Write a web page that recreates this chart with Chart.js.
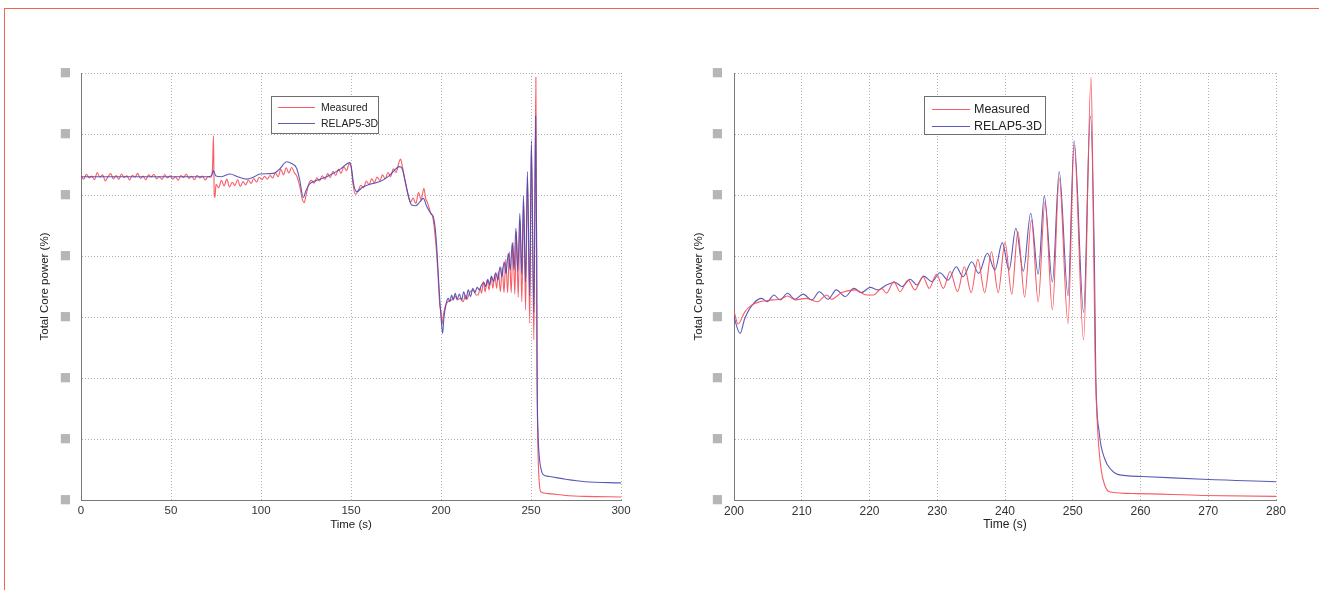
<!DOCTYPE html>
<html>
<head>
<meta charset="utf-8">
<script src="https://cdn.jsdelivr.net/npm/chart.js@4/dist/chart.umd.min.js"></script>
<style>
  body { margin: 0; background: #fff; }
  #page { position: relative; width: 1319px; height: 590px; overflow: hidden; }
  #frame { position: absolute; left: 4px; top: 8px; width: 1400px; height: 700px;
           border-top: 1px solid #f0654f; border-left: 1px solid #f0654f; }
  #left { position: absolute; left: 0; top: 0; }
  #right { position: absolute; left: 660px; top: 0; }
</style>
</head>
<body>
<div id="page">
  <div id="frame"></div>
  <canvas id="left" width="660" height="590"></canvas>
  <canvas id="right" width="659" height="590"></canvas>
</div>
<script>
// Total core power, measured vs RELAP5-3D

const measuredTime = [
  0, 1.5, 3, 4.5, 6, 7.5, 9, 10.5, 12, 13.5, 15, 16.5, 18, 19.5, 21, 22.5, 24, 25.5, 27, 28.5,
  30, 31.5, 33, 34.5, 36, 37.5, 39, 40.5, 42, 43.5, 45, 46.5, 48, 49.5, 51, 52.5, 54, 55.5, 57, 58.5,
  60, 61.5, 63, 64.5, 66, 67.5, 69, 70.5, 72, 73, 73.6, 74.0, 74.4, 75, 76.5, 78, 79.5, 81, 82.5, 84,
  85.5, 87, 88.5, 90, 91.5, 93, 94.5, 96, 97.5, 99, 100.5, 102, 103.5, 105, 106.5, 108, 109.5, 111, 112.5, 114,
  115.5, 117, 118.5, 120, 121.5, 123, 124, 125, 126.5, 128, 129.5, 131, 132.5, 134, 135.5, 137, 138.5, 140, 141.5, 143,
  144.5, 146, 147.5, 149, 150, 151, 152.5, 154, 155.5, 157, 158.5, 160, 161.5, 163, 164.5, 166, 167.5, 169, 170.5, 172,
  173.5, 175, 176.5, 177.5, 178.5, 180, 181.5, 183, 184.5, 186, 187.5, 189, 190.5, 191.5, 192.5, 194, 195.5, 196.5, 197.5, 198.5,
  199.3, 200.0, 200.6, 201.6, 202.6, 203.8, 205.0, 205.8, 206.8, 207.9, 209.0, 210.7, 212.3, 213.7, 214.4, 215.9, 217.9, 219.6, 220.6, 221.8,
  222.5, 223.6, 224.5, 225.7, 226.7, 227.9, 228.8, 229.9, 230.9, 231.9, 233.0, 234.0, 235.0, 236.0, 237.0, 238.0, 239.0, 240.0, 241.0, 241.9,
  242.9, 243.9, 244.9, 245.9, 247.0, 248.0, 249.3, 250.2, 251.6, 252.7, 253.05, 253.3, 253.7, 254.2, 254.7, 255.4, 259.3, 269.2, 280, 300
];
const measuredPower = [
  106.3, 105.2, 106.8, 105.6, 106.2, 105.0, 107.4, 105.8, 106.6, 104.6, 106.0, 107.0, 105.3, 106.4, 105.1, 106.9, 105.7, 106.3, 104.9, 106.5,
  105.8, 107.1, 105.4, 106.2, 105.0, 106.6, 105.9, 106.8, 105.3, 106.0, 105.1, 106.7, 105.6, 106.3, 105.2, 106.0, 104.8, 106.4, 105.7, 106.9,
  105.4, 106.1, 105.0, 106.5, 105.6, 106.2, 104.9, 106.0, 105.8, 108.0, 119.5, 100.0, 99.2, 103.5, 102.4, 104.8, 103.0, 105.2, 102.6, 104.2,
  103.1, 105.0, 102.8, 104.4, 103.3, 104.9, 103.8, 105.4, 104.2, 105.8, 105.0, 106.1, 105.2, 106.4, 105.6, 107.3, 106.0, 108.4, 106.6, 108.9,
  107.2, 109.0, 107.4, 106.0, 103.0, 98.5, 97.5, 99.8, 103.6, 104.8, 103.9, 105.6, 104.6, 106.3, 105.1, 107.0, 105.7, 107.8, 106.4, 108.5,
  107.1, 109.2, 108.0, 110.2, 109.5, 104.0, 100.2, 101.4, 103.2, 102.4, 104.6, 103.4, 105.3, 104.1, 105.9, 104.7, 106.6, 105.3, 107.4, 106.0,
  108.6, 107.4, 110.4, 111.8, 109.5, 104.6, 100.5, 97.6, 99.0, 97.2, 100.8, 98.5, 102.2, 98.8, 97.5, 94.5, 92.5, 88.0, 81.5, 72.0,
  64.0, 61.7, 57.7, 61.7, 63.9, 65.0, 65.4, 65.6, 65.8, 66.9, 65.6, 66.1, 65.0, 67.2, 65.8, 68.0, 68.9, 67.2, 67.2, 69.4,
  67.8, 71.6, 68.3, 72.1, 68.9, 73.2, 69.4, 74.0, 69.4, 74.9, 68.3, 76.5, 68.0, 78.9, 68.0, 81.4, 68.0, 84.5, 67.5, 88.0,
  66.5, 91.8, 65.0, 97.8, 62.3, 105.5, 57.9, 116.4, 52.5, 138.6, 90.3, 47.0, 22.3, 9.9, 5.0, 2.7, 2.1, 1.5, 1.2, 1.0
];

const relapTime = [
  0, 70, 72.5, 73.5, 75, 78, 82.8, 87, 92, 96, 99.4, 106.9, 110, 114.3, 117, 119.8, 121.5, 123.5, 125, 127,
  129.1, 136.5, 143.9, 149.4, 150.2, 151.5, 153.1, 156.8, 161, 166.1, 171, 177.2, 178.5, 180, 182, 183.7, 186, 188.3, 190.2, 192.1,
  194.5, 195.7, 196.7, 197.6, 199.1, 200.0, 200.9, 201.6, 202.9, 204.1, 204.9, 205.9, 206.8, 207.9, 209.0, 210.2, 211.5, 212.6, 213.9, 215.1,
  216.4, 217.7, 218.8, 220.1, 221.3, 222.5, 223.8, 224.8, 226.0, 227.0, 228.0, 229.2, 230.4, 231.6, 232.8, 233.8, 235.1, 236.1, 237.4, 238.5,
  239.6, 240.6, 241.6, 242.7, 243.8, 244.9, 245.8, 247.0, 248.0, 249.3, 250.2, 251.6, 252.6, 253.2, 253.4, 253.9, 254.7, 255.7, 256.6, 260.3,
  269.2, 280, 300
];
const relapPower = [
  106.0, 106.0, 106.3, 108.0, 106.2, 106.0, 106.9, 106.0, 105.2, 105.9, 106.9, 107.1, 108.3, 110.9, 110.3, 108.8, 105.0, 99.2, 101.5, 103.6,
  104.4, 106.0, 108.4, 110.6, 109.0, 103.5, 101.1, 102.7, 103.6, 104.4, 106.2, 109.3, 108.5, 104.9, 99.5, 96.7, 96.5, 97.8, 98.9, 96.2,
  93.8, 92.9, 89.5, 83.1, 67.8, 60.1, 54.6, 59.6, 64.5, 66.1, 65.0, 67.2, 65.6, 67.8, 65.8, 67.5, 65.6, 68.3, 65.8, 68.9,
  66.7, 69.4, 68.0, 69.7, 68.9, 70.5, 71.3, 70.0, 72.4, 70.5, 73.4, 71.6, 74.5, 72.1, 76.5, 73.2, 78.1, 74.3, 80.9, 75.4,
  84.4, 75.4, 89.1, 75.0, 94.0, 74.0, 99.7, 71.5, 107.7, 67.0, 117.8, 61.5, 125.9, 77.9, 40.8, 22.3, 13.6, 9.9, 8.4, 7.7,
  6.8, 6.0, 5.6
];

const leftTimeTicks = [0, 50, 100, 150, 200, 250, 300];
const rightTimeTicks = [200, 210, 220, 230, 240, 250, 260, 270, 280];
const powerTicks = [0, 20, 40, 60, 80, 100, 120, 140];
const seriesNames = ['Measured', 'RELAP5-3D'];

const RED = 'rgba(245, 75, 85, 0.9)';
const BLUE = 'rgba(72, 72, 180, 0.9)';

// legend drawn inside the plot area, like the matlab figure
const legendBox = {
  id: 'legendBox',
  afterDraw(chart, args, o) {
    const { ctx, chartArea } = chart;
    const x = chartArea.left + o.dx;
    const y = chartArea.top + o.dy;
    ctx.save();
    ctx.fillStyle = '#fff';
    ctx.fillRect(x, y, o.w, o.h);
    ctx.strokeStyle = '#6e6e6e';
    ctx.lineWidth = 1;
    ctx.strokeRect(x + 0.5, y + 0.5, o.w, o.h);
    ctx.font = o.size + 'px "Liberation Sans", Arial, sans-serif';
    ctx.textBaseline = 'middle';
    chart.data.datasets.forEach((ds, i) => {
      const ry = y + o.row0 + i * o.rowH;
      ctx.strokeStyle = ds.borderColor;
      ctx.beginPath();
      ctx.moveTo(x + o.l0, ry + 0.5);
      ctx.lineTo(x + o.l1, ry + 0.5);
      ctx.stroke();
      ctx.fillStyle = '#222';
      ctx.fillText(ds.label, x + o.tx, ry + 1);
    });
    ctx.restore();
  }
};

function makeChart(id, cfg) {
  const ctx = document.getElementById(id).getContext('2d');
  const font = { family: '"Liberation Sans", Arial, sans-serif', size: cfg.fontSize };
  return new Chart(ctx, {
    type: 'line',
    data: {
      datasets: [
        {
          label: seriesNames[0],
          data: measuredTime.map((t, i) => ({ x: t, y: measuredPower[i] })),
          borderColor: RED,
          borderWidth: 1.1,
          order: cfg.redOrder
        },
        {
          label: seriesNames[1],
          data: relapTime.map((t, i) => ({ x: t, y: relapPower[i] })),
          borderColor: BLUE,
          borderWidth: 1.1,
          order: cfg.blueOrder
        }
      ]
    },
    options: {
      responsive: false,
      animation: false,
      events: [],
      layout: { padding: cfg.padding },
      elements: {
        point: { radius: 0 },
        line: { cubicInterpolationMode: 'monotone', fill: false }
      },
      plugins: {
        legend: { display: false },
        tooltip: { enabled: false },
        legendBox: cfg.legend
      },
      scales: {
        x: {
          type: 'linear',
          min: cfg.xTicks[0],
          max: cfg.xTicks[cfg.xTicks.length - 1],
          afterBuildTicks: s => { s.ticks = cfg.xTicks.map(v => ({ value: v })); },
          afterFit: s => { s.height = cfg.xHeight; },
          grid: { color: '#b4b4b4', drawTicks: false },
          border: { display: true, color: '#7a7a7a', width: 1, dash: [1, 2] },
          ticks: { color: '#333', font: font, padding: 4, maxRotation: 0 },
          title: { display: true, text: 'Time (s)', color: '#222', font: font, padding: 0 }
        },
        y: {
          min: powerTicks[0],
          max: powerTicks[powerTicks.length - 1],
          afterBuildTicks: s => { s.ticks = powerTicks.map(v => ({ value: v })); },
          afterFit: s => { s.width = cfg.yWidth; },
          grid: { color: '#b4b4b4', drawTicks: false },
          border: { display: true, color: '#7a7a7a', width: 1, dash: [1, 2] },
          // tick values are blurred out in the source figure
          ticks: {
            color: 'rgba(110, 110, 110, 0.5)',
            font: { family: '"DejaVu Sans"', size: 12 },
            padding: cfg.yPad,
            callback: () => '\u25A0'
          },
          title: { display: true, text: 'Total Core power (%)', color: '#222', font: { family: font.family, size: 11.5 }, padding: 0 }
        }
      }
    },
    plugins: [legendBox]
  });
}

makeChart('left', {
  xTicks: leftTimeTicks,
  fontSize: 11.5,
  padding: { left: 38, right: 39, top: 73, bottom: 58 },
  yWidth: 43,
  xHeight: 32,
  yPad: 10,
  blueOrder: 0,
  redOrder: 1,
  legend: { dx: 190, dy: 23, w: 107, h: 37, l0: 7, l1: 44, tx: 50, row0: 11, rowH: 16, size: 10.5 }
});

makeChart('right', {
  xTicks: rightTimeTicks,
  fontSize: 12,
  padding: { left: 32, right: 43, top: 73, bottom: 58 },
  yWidth: 42,
  xHeight: 32,
  yPad: 11,
  blueOrder: 1,
  redOrder: 0,
  legend: { dx: 190, dy: 23, w: 121, h: 38, l0: 8, l1: 46, tx: 50, row0: 13, rowH: 17, size: 12.5 }
});
</script>
</body>
</html>
